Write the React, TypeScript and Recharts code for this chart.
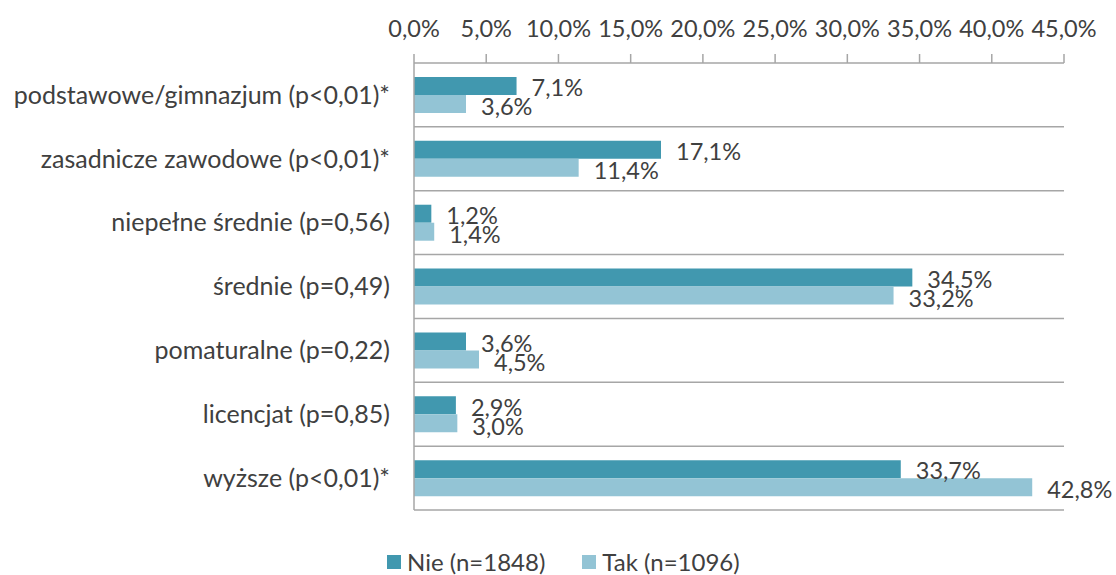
import React from 'react';
import { BarChart, Bar, XAxis, YAxis, CartesianGrid, LabelList } from 'recharts';

const categories = [
  'podstawowe/gimnazjum (p<0,01)*',
  'zasadnicze zawodowe (p<0,01)*',
  'niepełne średnie (p=0,56)',
  'średnie (p=0,49)',
  'pomaturalne (p=0,22)',
  'licencjat (p=0,85)',
  'wyższe (p<0,01)*',
];
const nieValues = [7.1, 17.1, 1.2, 34.5, 3.6, 2.9, 33.7];
const takValues = [3.6, 11.4, 1.4, 33.2, 4.5, 3.0, 42.8];
const xTicks = [0, 5, 10, 15, 20, 25, 30, 35, 40, 45];
const seriesNames = ['Nie (n=1848)', 'Tak (n=1096)'];

const NIE_COLOR = '#4198AF';
const TAK_COLOR = '#93C4D5';
const LINE = '#A6A6A6';
const TEXT = '#404040';
const FONT = 'Lato, "Open Sans", sans-serif';
const FS_LABEL = 25;
const FS_NUM = 23.5;

const data = categories.map((name, i) => ({ name, nie: nieValues[i], tak: takValues[i] }));

const pct = (v: number) => `${v.toFixed(1).replace('.', ',')}%`;

// category labels, right aligned a bit left of the axis
const YTick = (props: any) => {
  const { y, payload } = props;
  return (
    <text x={390} y={y} dy="0.35em" textAnchor="end" fill={TEXT} fontFamily={FONT} fontSize={FS_LABEL}>
      {payload.value}
    </text>
  );
};

const barLabel = (dyExtra: number) => (props: any) => {
  const { x, y, width, height, value } = props;
  return (
    <text
      x={x + width + 15}
      y={y + height / 2 + dyExtra}
      dy="0.35em"
      fill={TEXT}
      fontFamily={FONT}
      fontSize={FS_NUM}
    >
      {pct(value)}
    </text>
  );
};

export default function App() {
  return (
    <div style={{ position: 'absolute', left: 0, top: 0, width: 1116, height: 575, background: '#fff', overflow: 'hidden' }}>
      <BarChart
        width={1116}
        height={575}
        data={data}
        layout="vertical"
        margin={{ top: 0, right: 52, bottom: 65, left: 0 }}
        barGap={0}
        barSize={18}
      >
        <CartesianGrid
          vertical={false}
          stroke={LINE}
          strokeWidth={1.5}
          horizontalCoordinatesGenerator={({ offset }: any) =>
            categories.map((_, i) => offset.top + ((i + 1) * offset.height) / categories.length)
          }
        />
        <XAxis
          type="number"
          orientation="top"
          domain={[0, 45]}
          ticks={xTicks}
          height={63}
          tickSize={9}
          tickMargin={17}
          tickFormatter={pct}
          axisLine={{ stroke: LINE, strokeWidth: 1.5 }}
          tickLine={{ stroke: LINE, strokeWidth: 1.5 }}
          tick={{ fill: TEXT, fontFamily: FONT, fontSize: FS_NUM }}
          interval={0}
        />
        <YAxis
          type="category"
          dataKey="name"
          width={414}
          tickLine={false}
          axisLine={{ stroke: LINE, strokeWidth: 1.5 }}
          tick={<YTick />}
          interval={0}
        />
        <Bar dataKey="nie" name={seriesNames[0]} fill={NIE_COLOR} isAnimationActive={false}>
          <LabelList dataKey="nie" content={barLabel(2)} />
        </Bar>
        <Bar dataKey="tak" name={seriesNames[1]} fill={TAK_COLOR} isAnimationActive={false}>
          <LabelList dataKey="tak" content={barLabel(3)} />
        </Bar>
      </BarChart>
      <div
        style={{
          position: 'absolute',
          top: 549,
          left: 387,
          height: 26,
          lineHeight: '26px',
          display: 'flex',
          alignItems: 'center',
          fontFamily: FONT,
          fontSize: 24,
          color: TEXT,
          whiteSpace: 'nowrap',
        }}
      >
        <span style={{ width: 14, height: 14, background: NIE_COLOR, display: 'inline-block', marginRight: 6 }} />
        <span style={{ marginRight: 37 }}>{seriesNames[0]}</span>
        <span style={{ width: 14, height: 14, background: TAK_COLOR, display: 'inline-block', marginRight: 6 }} />
        <span>{seriesNames[1]}</span>
      </div>
    </div>
  );
}
